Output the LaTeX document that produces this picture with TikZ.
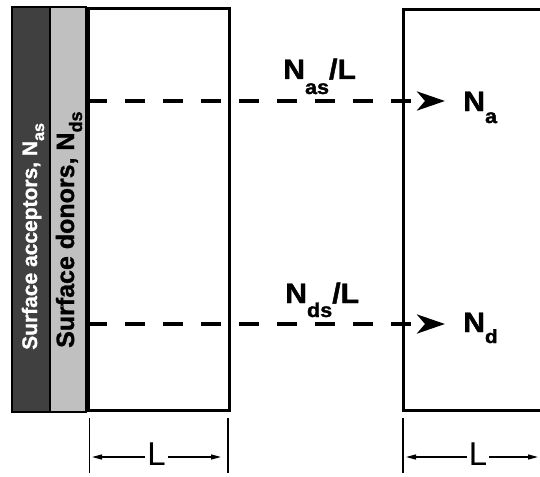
\documentclass[tikz,border=0pt]{standalone}
\usepackage{fontspec}
\setmainfont{Liberation Sans}
\newfontfamily\labfont[FakeStretch=1.08,BoldFeatures={FakeBold=1.5}]{Liberation Sans}
\newfontfamily\sidefont[BoldFeatures={FakeBold=1.2}]{Liberation Sans}
\usetikzlibrary{arrows.meta}

% subscript set lower and smaller than the main letter
\newcommand\lowsub[3]{\raisebox{-#1}{\fontsize{#2}{#2}\selectfont #3}}

\begin{document}
\begin{tikzpicture}[x=1pt,y=-1pt,
  frame/.style={line width=3pt},
  strip/.style={draw=black,line width=1.5pt},
  flux/.style={line width=4pt,dash pattern=on 20pt off 18pt,
    -{Stealth[length=28pt,width=19pt,inset=8pt]}},
  tick/.style={line width=1.3pt},
  dim/.style={line width=1.3pt,{Triangle[length=10pt,width=5pt]}-{Triangle[length=10pt,width=5pt]}},
  lab/.style={inner sep=0pt,font=\labfont\bfseries\fontsize{28}{32}\selectfont},
  dimlab/.style={inner sep=2pt,fill=white,font=\fontsize{33}{36}\selectfont}
]
\useasboundingbox (0,0) rectangle (540,476);
\clip (0,0) rectangle (540,476);

% surface layers
\draw[strip,fill={rgb,255:red,64;green,64;blue,64}] (12,7) rectangle (50,412);
\draw[strip,fill={rgb,255:red,192;green,192;blue,192}] (50,7) rectangle (86,412);

% slab with surface, and the bulk sample
\draw[frame] (88,8.5) rectangle (229.5,410.5);
\draw[line width=4.5pt] (87,7) -- (87,412);
\draw[frame] (546,9.5) -- (403.5,9.5) -- (403.5,410.5) -- (546,410.5);

% rotated layer labels
\node[rotate=90,anchor=base west,inner sep=0pt,text=white,
  font=\sidefont\bfseries\fontsize{21}{24}\selectfont] (acc) at (37,350)
  {Surface acceptors, N\lowsub{7pt}{16}{as}};
\node[rotate=90,anchor=base west,inner sep=0pt,
  font=\sidefont\bfseries\fontsize{25}{28}\selectfont] (don) at (74,348)
  {Surface donors, N\lowsub{8pt}{18}{ds}};

% equivalent bulk concentrations
\coordinate (sa) at (87,101);
\coordinate (ta) at (445,101);
\coordinate (sd) at (87,324);
\coordinate (td) at (445,324);
\draw[flux] (sa) -- (ta);
\draw[flux] (sd) -- (td);

\node[lab,anchor=base west] (nasl) at (283,79) {N\lowsub{15pt}{20}{as}/L};
\node[lab,anchor=base west] (ndsl) at (285,303) {N\lowsub{14pt}{20}{ds}/L};
\node[lab,anchor=base west] (na) at (463,111) {N\lowsub{12pt}{20}{a}};
\node[lab,anchor=base west] (nd) at (463,332) {N\lowsub{11pt}{19}{d}};

% thickness marks
\coordinate (k1a) at (89.5,418); \coordinate (k1b) at (89.5,473);
\coordinate (k2a) at (228,418);  \coordinate (k2b) at (228,473);
\coordinate (k3a) at (403,418);  \coordinate (k3b) at (403,473);
\draw[tick] (k1a) -- (k1b);
\draw[tick] (k2a) -- (k2b);
\draw[tick] (k3a) -- (k3b);

\coordinate (d1l) at (92,457); \coordinate (d1r) at (221,457);
\coordinate (d2l) at (406,457); \coordinate (d2r) at (538,457);
\draw[dim] (d1l) -- (d1r) node[dimlab,pos=0.5,yshift=3pt] (l1) {L};
\draw[dim] (d2l) -- (d2r) node[dimlab,pos=0.545,yshift=3pt] (l2) {L};
\end{tikzpicture}
\end{document}
